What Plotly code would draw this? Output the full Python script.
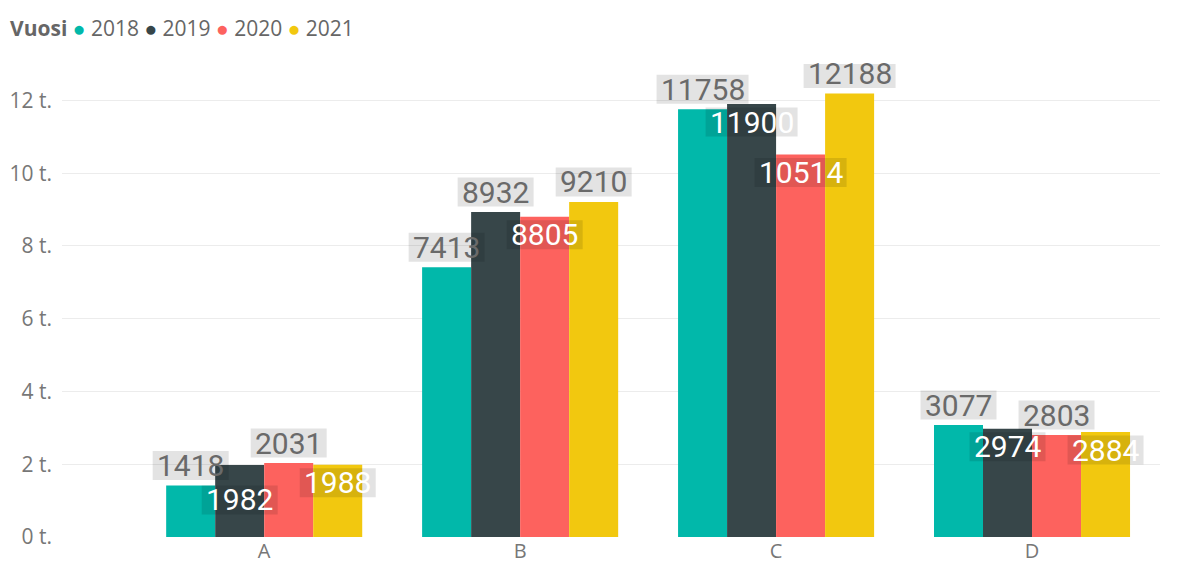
import plotly.graph_objects as go

categories = ["A", "B", "C", "D"]
years = ["2018", "2019", "2020", "2021"]
values_2018 = [1418, 7413, 11758, 3077]
values_2019 = [1982, 8932, 11900, 2974]
values_2020 = [2031, 8805, 10514, 2803]
values_2021 = [1988, 9210, 12188, 2884]
series = [values_2018, values_2019, values_2020, values_2021]
colors = ["#01B8AA", "#374649", "#FD625E", "#F2C80F"]
tick_vals = [0, 2000, 4000, 6000, 8000, 10000, 12000]
tick_text = ["0 t.", "2 t.", "4 t.", "6 t.", "8 t.", "10 t.", "12 t."]

# label placement (rows: categories, cols: years); o = above bar, i = inside top
placement = [
    ["o", "i", "o", "i"],
    ["o", "o", "i", "o"],
    ["o", "i", "i", "o"],
    ["o", "i", "o", "i"],
]

bargap = 0.234
n = len(years)
bw = (1 - bargap) / n
xs = list(range(len(categories)))

fig = go.Figure()
for k, (yr, vals, col) in enumerate(zip(years, series, colors)):
    fig.add_trace(go.Bar(x=xs, y=vals, name=yr, marker_color=col,
                         marker_line_width=0, showlegend=False, hoverinfo="skip"))

shapes = []
annotations = []
for k, vals in enumerate(series):
    for i, v in enumerate(vals):
        xc = i + (k - (n - 1) / 2) * bw
        mode = placement[i][k]
        if mode == "o":
            shift = 20
            tcol = "#6a6a6a"
        else:
            shift = -35 if (i == 0 and k == 1) else -18
            tcol = "#ffffff"
        txt = str(v)
        w = 16 * len(txt) + 12
        shapes.append(dict(type="rect", xref="x", yref="y", xsizemode="pixel",
                           ysizemode="pixel", xanchor=xc, yanchor=v,
                           x0=-w / 2, x1=w / 2, y0=shift - 14.5, y1=shift + 14.5,
                           fillcolor="rgba(0,0,0,0.11)", line_width=0, layer="above"))
        annotations.append(dict(x=xc, y=v, xref="x", yref="y", text=txt,
                                showarrow=False, yshift=shift, xanchor="center",
                                yanchor="middle",
                                font=dict(family="Roboto", size=30, color=tcol)))

legend_html = "<b>Vuosi</b> " + " ".join(
    f"<span style='color:{c}'>●</span> {y}" for y, c in zip(years, colors))
annotations.append(dict(x=0, y=1, xref="paper", yref="paper", text=legend_html,
                        showarrow=False, xanchor="left", yanchor="middle",
                        xshift=0 - 54, yshift=56 - 20,
                        font=dict(family="Open Sans", size=21, color="#666666")))

fig.update_layout(
    width=1173, height=555,
    margin=dict(l=54, r=21, t=56, b=26),
    paper_bgcolor="white", plot_bgcolor="white",
    barmode="group", bargap=bargap, bargroupgap=0,
    shapes=shapes,
    annotations=annotations,
    font=dict(family="Open Sans", color="#777777"),
    xaxis=dict(range=[-0.79, 3.5], tickmode="array", tickvals=xs, ticktext=categories,
               showgrid=False, zeroline=False, showline=False, ticks="",
               automargin=False, ticklabelstandoff=0,
               tickfont=dict(size=20, color="#777777")),
    yaxis=dict(range=[0, 13000], tickmode="array", tickvals=tick_vals, ticktext=tick_text,
               showgrid=True, gridcolor="#ececec", gridwidth=1, zeroline=False,
               showline=False, ticks="", ticklabelstandoff=9, automargin=False,
               tickfont=dict(size=21, color="#777777")),
)
fig.write_html("out.html")
